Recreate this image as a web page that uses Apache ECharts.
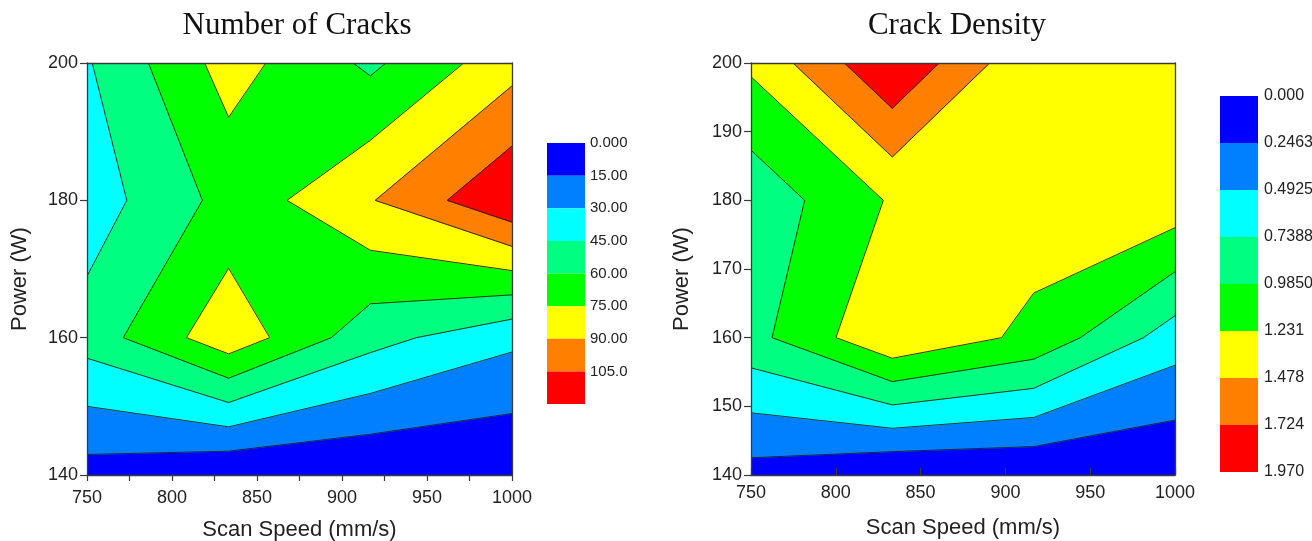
<!DOCTYPE html>
<html><head><meta charset="utf-8">
<script src="https://cdn.jsdelivr.net/npm/echarts/dist/echarts.min.js"></script>
<style>html,body{margin:0;padding:0;background:#fff}#c{width:1312px;height:541px}</style>
</head><body><div id="c"></div>
<script>
// ---- data ----
const speeds = [750, 833.3, 916.7, 1000];          // Scan Speed (mm/s)
const powers = [140, 160, 180, 200];               // Power (W)
// rows: power 140,160,180,200 ; cols: speed 750..1000
const cracks140 = [8.6, 0.3, 0, 0];
const cracks160 = [51.4, 85, 50.5, 33.5];
const cracks180 = [37.1, 65.2, 89, 118.5];
const cracks200 = [43.6, 81.4, 57, 84.3];
const density140 = [0.152, 0.0, 0.006, 0.0];
const density160 = [0.904, 1.448, 1.167, 0.616];
const density180 = [0.817, 1.259, 1.364, 1.384];
const density200 = [1.277, 1.953, 1.263, 1.40];
const crackLevels = [0, 15, 30, 45, 60, 75, 90, 105];
const crackLabels = ['0.000','15.00','30.00','45.00','60.00','75.00','90.00','105.0'];
const densityLevels = [0, 0.2463, 0.4925, 0.7388, 0.9850, 1.231, 1.478, 1.724];
const densityLabels = ['0.000','0.2463','0.4925','0.7388','0.9850','1.231','1.478','1.724','1.970'];
const bandColors = ['#0000ff','#0080ff','#00ffff','#00ff80','#00ff00','#ffff00','#ff8000','#ff0000'];

const cracks = [cracks140, cracks160, cracks180, cracks200];
const density = [density140, density160, density180, density200];

// marching squares: filled superlevel sets + contour segments
function buildContours(z, levels) {
  const fills = [{k:0, pts:[[speeds[0],powers[0]],[speeds[speeds.length-1],powers[0]],[speeds[speeds.length-1],powers[powers.length-1]],[speeds[0],powers[powers.length-1]]]}];
  const lines = [];
  for (let k = 1; k < levels.length; k++) {
    const L = levels[k];
    for (let j = 0; j < powers.length - 1; j++) for (let i = 0; i < speeds.length - 1; i++) {
      const c = [[speeds[i], powers[j], z[j][i]], [speeds[i+1], powers[j], z[j][i+1]],
                 [speeds[i+1], powers[j+1], z[j+1][i+1]], [speeds[i], powers[j+1], z[j+1][i]]];
      const hi = c.map(p => p[2] >= L);
      const nHi = hi.filter(Boolean).length;
      if (nHi === 0) continue;
      const cross = (a, b) => { const t = (L - a[2]) / (b[2] - a[2]); return [a[0] + t*(b[0]-a[0]), a[1] + t*(b[1]-a[1])]; };
      const saddle = nHi === 2 && hi[0] === hi[2];
      const center = (c[0][2] + c[1][2] + c[2][2] + c[3][2]) / 4;
      if (saddle && center < L) {
        for (let m = 0; m < 4; m++) if (hi[m]) {
          const prev = c[(m+3)%4], next = c[(m+1)%4];
          const p1 = cross(prev, c[m]), p2 = cross(c[m], next);
          fills.push({k, pts:[p1, [c[m][0], c[m][1]], p2]});
          lines.push([p1, p2]);
        }
      } else {
        const pts = [], xs = [];
        for (let m = 0; m < 4; m++) {
          const a = c[m], b = c[(m+1)%4];
          if (hi[m]) pts.push([a[0], a[1]]);
          if (hi[m] !== hi[(m+1)%4]) { const p = cross(a, b); pts.push(p); xs.push(p); }
        }
        fills.push({k, pts});
        if (xs.length === 2) lines.push(xs);
        else if (xs.length === 4) {
          for (let m = 0; m < 4; m++) if (!hi[m]) {
            const prev = c[(m+3)%4], next = c[(m+1)%4];
            lines.push([cross(prev, c[m]), cross(c[m], next)]);
          }
        }
      }
    }
  }
  return {fills, lines};
}

const CL = buildContours(cracks, crackLevels);
const CR = buildContours(density, densityLevels);

function fillSeries(set, ax) {
  return {type:'custom', xAxisIndex:ax, yAxisIndex:ax, clip:true, z:2, silent:true,
    data: set.fills.map((f,i) => [f.pts[0][0], f.pts[0][1], i]),
    renderItem: (params, api) => {
      const f = set.fills[params.dataIndex];
      return {type:'polygon', z2:f.k, shape:{points:f.pts.map(p => api.coord(p))},
        style:{fill:bandColors[f.k], stroke:bandColors[f.k], lineWidth:1}};
    }};
}
function lineSeries(set, ax) {
  return {type:'custom', xAxisIndex:ax, yAxisIndex:ax, clip:true, z:3, silent:true,
    data: set.lines.map((l,i) => [l[0][0], l[0][1], i]),
    renderItem: (params, api) => {
      const l = set.lines[params.dataIndex];
      const a = api.coord(l[0]), b = api.coord(l[1]);
      return {type:'line', shape:{x1:a[0], y1:a[1], x2:b[0], y2:b[1]},
        style:{stroke:'#1e1e1e', lineWidth:0.9}};
    }};
}
function barSeries(ax) {
  return {type:'custom', xAxisIndex:ax, yAxisIndex:ax, silent:true, z:2,
    data: bandColors.map((c,i) => [0, i]),
    renderItem: (params, api) => {
      const i = api.value(1);
      const p0 = api.coord([0, i]), p1 = api.coord([1, i+1]);
      return {type:'rect', shape:{x:p0[0], y:p0[1], width:p1[0]-p0[0], height:p1[1]-p0[1]},
        style:{fill:bandColors[i]}};
    }};
}

const SANS = 'Liberation Sans, Arial, sans-serif';
const axisLineStyle = {show:true, lineStyle:{color:'#3a3a3a', width:1.3}};
function frameAxis(grid, min, max, pos) {
  return {type:'value', gridIndex:grid, min, max, position:pos, z:5,
    axisLine:axisLineStyle, axisTick:{show:false}, axisLabel:{show:false}, splitLine:{show:false}};
}

const chart = echarts.init(document.getElementById('c'), null, {renderer:'canvas'});
chart.setOption({
  animation:false,
  backgroundColor:'#fff',
  title:[
    {text:'Number of Cracks', left:292, top:5, textAlign:'center',
     textStyle:{fontFamily:'Liberation Serif, Times New Roman, serif', fontSize:31, fontWeight:'normal', color:'#111'}},
    {text:'Crack Density', left:952, top:5, textAlign:'center',
     textStyle:{fontFamily:'Liberation Serif, Times New Roman, serif', fontSize:31, fontWeight:'normal', color:'#111'}}
  ],
  grid:[
    {left:87, top:63, width:425, height:412, outerBoundsMode:'none', containLabel:false},
    {left:751, top:63, width:424, height:412, outerBoundsMode:'none', containLabel:false},
    {left:547, top:143, width:38, height:261, outerBoundsMode:'none', containLabel:false},
    {left:1220, top:96, width:38, height:376, outerBoundsMode:'none', containLabel:false}
  ],
  xAxis:[
    {type:'value', gridIndex:0, min:750, max:1000, interval:25, z:5,
     axisLine:axisLineStyle, axisTick:{show:true, inside:false, length:6, lineStyle:{color:'#3a3a3a', width:1.2}},
     axisLabel:{formatter:v => (v % 50 === 0 ? String(v) : ''), fontSize:18, color:'#222', fontFamily:SANS, margin:14},
     splitLine:{show:false},
     name:'Scan Speed (mm/s)', nameLocation:'middle', nameGap:44,
     nameTextStyle:{fontSize:22, color:'#222', fontFamily:SANS}},
    frameAxis(0, 750, 1000, 'top'),
    {type:'value', gridIndex:1, min:750, max:1000, interval:50, z:5,
     axisLine:axisLineStyle, axisTick:{show:true, inside:true, length:7, lineStyle:{color:'#3a3a3a', width:1.2}},
     axisLabel:{formatter:v => String(v), fontSize:18, color:'#222', fontFamily:SANS, margin:9},
     splitLine:{show:false},
     name:'Scan Speed (mm/s)', nameLocation:'middle', nameGap:42,
     nameTextStyle:{fontSize:22, color:'#222', fontFamily:SANS}},
    frameAxis(1, 750, 1000, 'top'),
    {type:'value', gridIndex:2, min:0, max:1, show:false},
    {type:'value', gridIndex:3, min:0, max:1, show:false}
  ],
  yAxis:[
    {type:'value', gridIndex:0, min:140, max:200, interval:20, z:5,
     axisLine:axisLineStyle, axisTick:{show:true, inside:false, length:7, lineStyle:{color:'#3a3a3a', width:1.2}},
     axisLabel:{fontSize:18, color:'#222', fontFamily:SANS, margin:9},
     splitLine:{show:false},
     name:'Power (W)', nameLocation:'middle', nameGap:56, nameRotate:90,
     nameTextStyle:{fontSize:22, color:'#222', fontFamily:SANS, padding:[0,20,0,0]}},
    frameAxis(0, 140, 200, 'right'),
    {type:'value', gridIndex:1, min:140, max:200, interval:10, z:5,
     axisLine:axisLineStyle, axisTick:{show:true, inside:false, length:7, lineStyle:{color:'#3a3a3a', width:1.2}},
     axisLabel:{fontSize:18, color:'#222', fontFamily:SANS, margin:9},
     splitLine:{show:false},
     name:'Power (W)', nameLocation:'middle', nameGap:58, nameRotate:90,
     nameTextStyle:{fontSize:22, color:'#222', fontFamily:SANS, padding:[0,20,0,0]}},
    frameAxis(1, 140, 200, 'right'),
    {type:'value', gridIndex:2, min:0, max:8, interval:1, inverse:true, position:'right',
     axisLine:{show:false}, axisTick:{show:false}, splitLine:{show:false},
     axisLabel:{showMinLabel:true, showMaxLabel:true, formatter:v => crackLabels[Math.round(v)] || '',
       fontSize:15, color:'#222', fontFamily:SANS, margin:5, padding:[4,0,0,0]}},
    {type:'value', gridIndex:3, min:0, max:8, interval:1, inverse:true, position:'right',
     axisLine:{show:false}, axisTick:{show:false}, splitLine:{show:false},
     axisLabel:{showMinLabel:true, showMaxLabel:true, formatter:v => densityLabels[Math.round(v)] || '',
       fontSize:16, color:'#222', fontFamily:SANS, margin:6, padding:[2,0,0,0]}}
  ],
  series:[
    fillSeries(CL, 0), lineSeries(CL, 0),
    fillSeries(CR, 2), lineSeries(CR, 2),
    barSeries(4), barSeries(5)
  ]
});
</script></body></html>
